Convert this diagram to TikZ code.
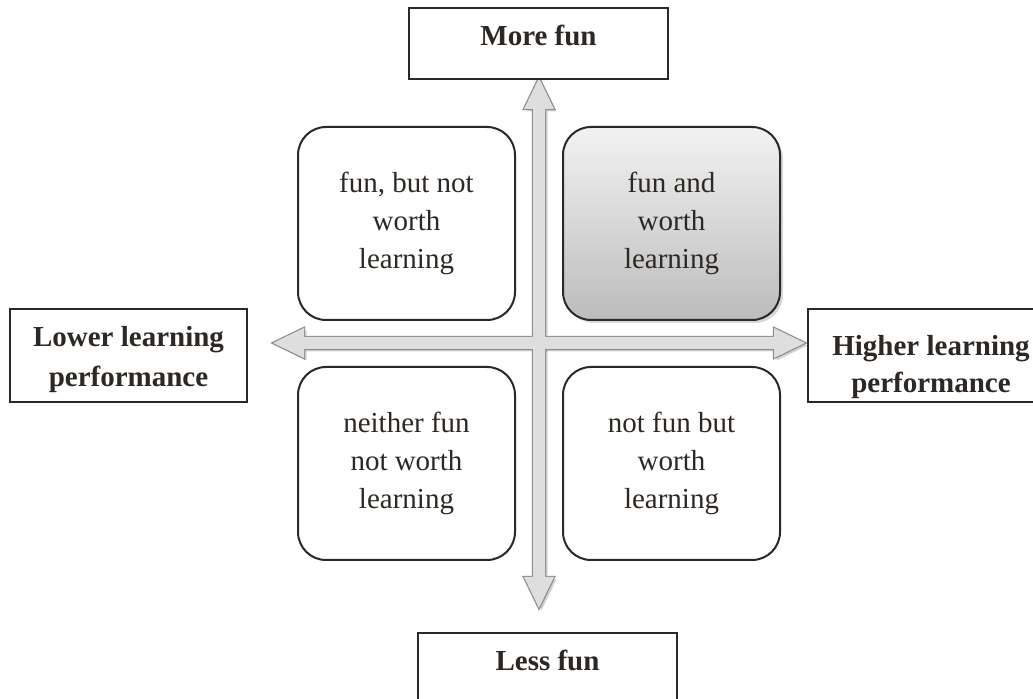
\documentclass[tikz,border=0pt]{standalone}
\usepackage{fontspec}
\setmainfont{Liberation Serif}
\usetikzlibrary{shadows}
\definecolor{ink}{RGB}{45,40,35}
\definecolor{axisfill}{RGB}{222,222,222}
\definecolor{axisline}{RGB}{140,140,140}
\definecolor{shadetop}{RGB}{242,242,242}
\definecolor{shadebot}{RGB}{188,188,188}
\tikzset{
  labelbox/.style={draw=ink, line width=0.8pt, fill=white, text=ink,
    font=\fontsize{14.5}{20}\selectfont\bfseries, align=center,
    inner xsep=0pt},
  endbox/.style={labelbox, anchor=north, minimum width=129.5pt,
    inner ysep=0pt, text height=19pt, text depth=16.5pt},
  sidebox/.style={labelbox, minimum height=46.5pt, inner ysep=0pt},
  quadbox/.style={draw=ink, line width=1pt, rounded corners=14pt, fill=white,
    text=ink, font=\fontsize{14.5}{19}\selectfont, align=center,
    minimum width=108.5pt, minimum height=96.5pt},
  hotbox/.style={quadbox, top color=shadetop, bottom color=shadebot,
    drop shadow={opacity=0.3, shadow xshift=1.5pt, shadow yshift=-1.5pt}},
}
\begin{document}
\begin{tikzpicture}[x=0.5pt, y=-0.5pt]
\useasboundingbox (0,0) rectangle (1033,699);
\fill[white] (0,0) rectangle (1033,699);

% crossing point of the two axes
\coordinate (c) at (539,343);

% axis outlines: horizontal and vertical double arrows
\def\haxis{(273,343) -- (304,328) -- (304,337) -- (774,337) -- (774,328)
  -- (805,343) -- (774,358) -- (774,349) -- (304,349) -- (304,358) -- cycle}
\def\vaxis{(539,78) -- (554,109) -- (545,109) -- (545,577) -- (554,577)
  -- (539,608) -- (524,577) -- (533,577) -- (533,109) -- (524,109) -- cycle}

% soft shadows
\begin{scope}[shift={(2.5,2.5)}]
  \fill[black, opacity=0.18] \haxis;
  \fill[black, opacity=0.18] \vaxis;
\end{scope}
% borders first, then fills, so the crossing merges
\draw[axisline, line width=1.2pt, line join=miter] \haxis;
\draw[axisline, line width=1.2pt, line join=miter] \vaxis;
\fill[axisfill] \haxis;
\fill[axisfill] \vaxis;

% end labels of the axes
\node[endbox] (more) at (538.5,7) {More fun};
\node[endbox] (less) at (547.5,632) {Less fun};
\node[sidebox, minimum width=118.5pt, font=\fontsize{14.5}{20}\selectfont\bfseries]
  (lower) at (128.5,355.5)
  {\rule{0pt}{13.6pt}Lower learning\\performance};
\node[sidebox, minimum width=123pt, font=\fontsize{14.5}{18.5}\selectfont\bfseries]
  (higher) at (931,355.5)
  {\rule{0pt}{21.1pt}Higher learning\\performance};

% the four quadrants
\node[quadbox] (q1) at (406.5,223.5) {fun, but not\\worth\\learning};
\node[hotbox]  (q2) at (671.5,223.5) {fun and\\worth\\learning};
\node[quadbox] (q3) at (406.5,463.5) {neither fun\\not worth\\learning};
\node[quadbox] (q4) at (671.5,463.5) {not fun but\\worth\\learning};
\end{tikzpicture}
\end{document}
